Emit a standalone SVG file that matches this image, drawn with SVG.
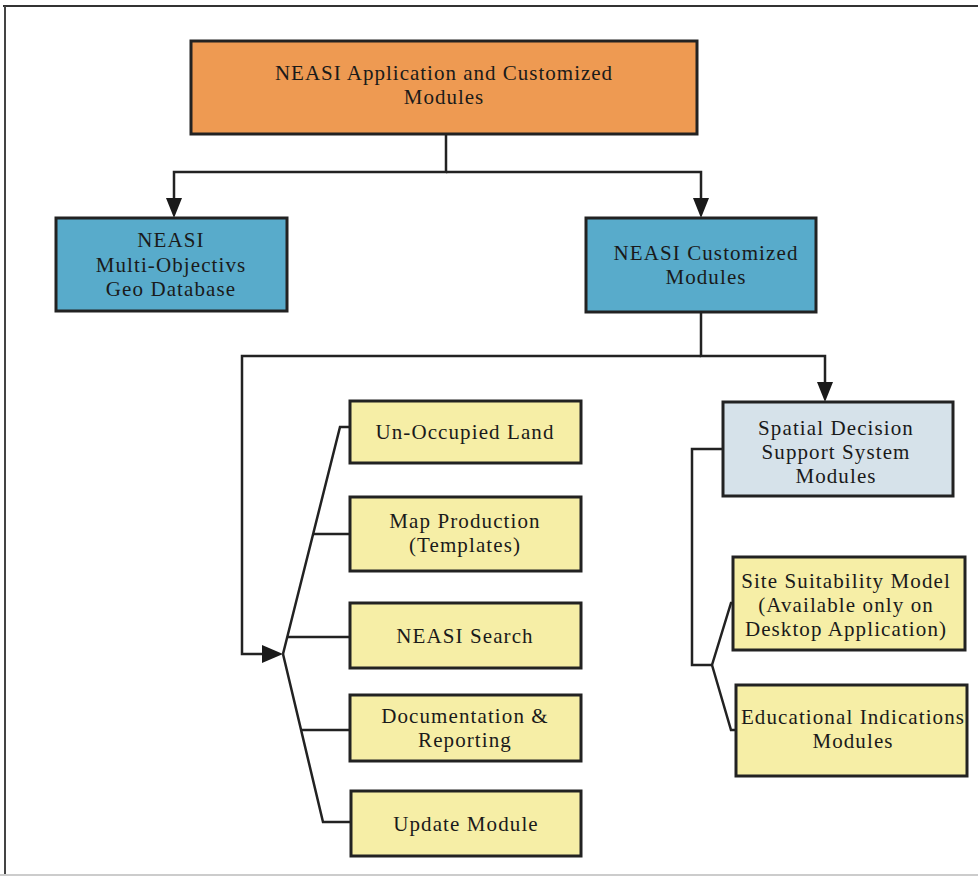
<svg xmlns="http://www.w3.org/2000/svg" width="978" height="876" viewBox="0 0 978 876">
<style>
text{font-family:"Liberation Serif","Times New Roman",serif;font-size:21px;fill:#1a1a1a;text-anchor:middle;letter-spacing:1.1px}
.box{stroke:#222;stroke-width:3}
.or{fill:#EE9A52}
.bl{fill:#58ABCB}
.gr{fill:#D6E2EA}
.ye{fill:#F6EEA6}
.ln{fill:none;stroke:#222;stroke-width:2.5}
</style>
<rect x="0" y="0" width="978" height="876" fill="#fff"/>
<g id="frame">
<line x1="3" y1="6" x2="978" y2="6" stroke="#333" stroke-width="2"/>
<line x1="5" y1="6" x2="5" y2="875" stroke="#444" stroke-width="2"/>
<line x1="0" y1="875" x2="978" y2="875" stroke="#ccc" stroke-width="2"/>
</g>
<g id="connectors">
<path class="ln" d="M446,134 V172 H174 V208"/>
<path d="M174,218 L166,198 L182,198 Z" fill="#1a1a1a"/>
<path class="ln" d="M446,172 H701 V208"/>
<path d="M701,218 L693,198 L709,198 Z" fill="#1a1a1a"/>
<path class="ln" d="M701,312 V356 H825 V392"/>
<path d="M825,402 L817,382 L833,382 Z" fill="#1a1a1a"/>
<path class="ln" d="M701,356 H242 V654 H268"/>
<path d="M283,654 L262,645 L262,663 Z" fill="#1a1a1a"/>
<path class="ln" d="M283,654 L340,427 H350"/>
<path class="ln" d="M313,534 H350"/>
<path class="ln" d="M287,637 H350"/>
<path class="ln" d="M283,654 L323,822 H350"/>
<path class="ln" d="M302,730 H350"/>
<path class="ln" d="M723,449 H692 V665 H712"/>
<path class="ln" d="M712,665 L731,603 H735"/>
<path class="ln" d="M712,665 L731,730 H737"/>
</g>
<g id="n-top">
<rect class="box or" x="191" y="41" width="506" height="93"/>
<text x="444" y="80" style="letter-spacing:1px">NEASI Application and Customized</text>
<text x="444" y="104" style="letter-spacing:1px">Modules</text>
</g>
<g id="n-geo">
<rect class="box bl" x="56" y="218" width="231" height="93"/>
<text x="171" y="247">NEASI</text>
<text x="171" y="272">Multi-Objectivs</text>
<text x="171" y="296">Geo Database</text>
</g>
<g id="n-cust">
<rect class="box bl" x="586" y="218" width="230" height="94"/>
<text x="706" y="260">NEASI Customized</text>
<text x="706" y="284">Modules</text>
</g>
<g id="n-sdss">
<rect class="box gr" x="723" y="402" width="230" height="94"/>
<text x="836" y="435">Spatial Decision</text>
<text x="836" y="459">Support System</text>
<text x="836" y="483">Modules</text>
</g>
<g id="n-unocc">
<rect class="box ye" x="350" y="401" width="231" height="62"/>
<text x="465" y="439">Un-Occupied Land</text>
</g>
<g id="n-map">
<rect class="box ye" x="350" y="497" width="231" height="74"/>
<text x="465" y="528">Map Production</text>
<text x="465" y="552">(Templates)</text>
</g>
<g id="n-search">
<rect class="box ye" x="350" y="603" width="231" height="65"/>
<text x="465" y="643">NEASI Search</text>
</g>
<g id="n-doc">
<rect class="box ye" x="350" y="695" width="231" height="66"/>
<text x="465" y="723">Documentation &amp;</text>
<text x="465" y="747">Reporting</text>
</g>
<g id="n-update">
<rect class="box ye" x="351" y="791" width="230" height="65"/>
<text x="466" y="831">Update Module</text>
</g>
<g id="n-site">
<rect class="box ye" x="733" y="557" width="232" height="93"/>
<text x="846" y="588">Site Suitability Model</text>
<text x="846" y="612">(Available only on</text>
<text x="846" y="636">Desktop Application)</text>
</g>
<g id="n-edu">
<rect class="box ye" x="736" y="685" width="231" height="91"/>
<text x="853" y="724">Educational Indications</text>
<text x="853" y="748">Modules</text>
</g>
</svg>
